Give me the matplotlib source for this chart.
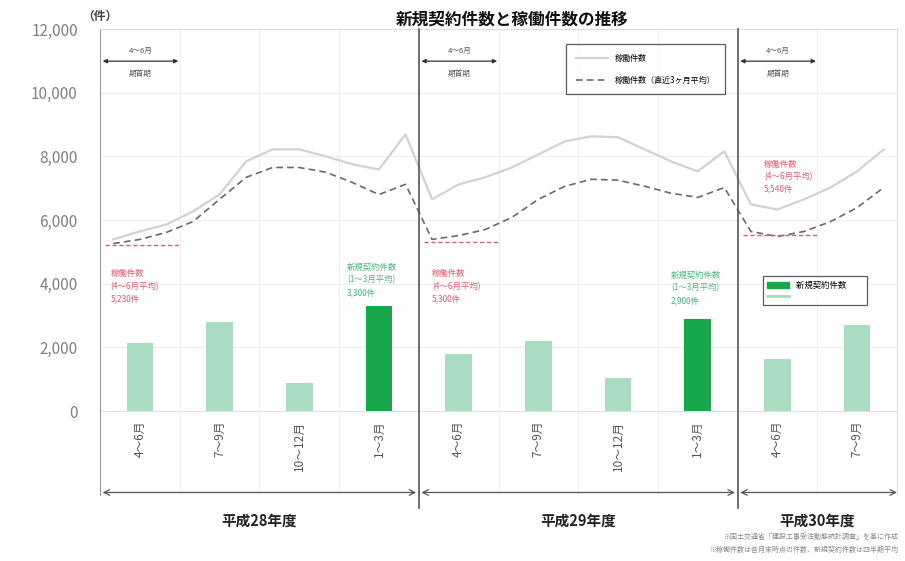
import matplotlib
matplotlib.use("Agg")
import matplotlib.pyplot as plt
from matplotlib.patches import Patch
from matplotlib.lines import Line2D

plt.rcParams['font.family'] = ['Noto Sans CJK JP', 'DejaVu Sans']

# ---- data ----
quarters = ["4～6月", "7～9月", "10～12月", "1～3月",
            "4～6月", "7～9月", "10～12月", "1～3月",
            "4～6月", "7～9月"]
new_contracts = [2150, 2800, 880, 3300, 1780, 2200, 1050, 2900, 1620, 2700]
q4_flags = [0, 0, 0, 1, 0, 0, 0, 1, 0, 0]

active = [5390, 5640, 5860, 6270, 6800, 7840, 8220, 8220, 8000, 7750, 7590, 8690,
          6650, 7120, 7340, 7650, 8060, 8470, 8630, 8600, 8220, 7840, 7530, 8160,
          6490, 6330, 6650, 7020, 7530, 8220]
active_avg = [5260, 5390, 5610, 5950, 6650, 7340, 7650, 7650, 7500, 7180, 6800, 7120,
              5390, 5510, 5700, 6080, 6650, 7060, 7280, 7250, 7060, 6840, 6710, 7020,
              5640, 5480, 5640, 5950, 6390, 7020]
q1_ref = [5230, 5300, 5540]
years = ["平成28年度", "平成29年度", "平成30年度"]
yticks = [0, 2000, 4000, 6000, 8000, 10000, 12000]

LIGHT = "#a9dcc0"
DARK = "#17a84c"
RED = "#e25a6e"
GREEN = "#45b97a"

fig = plt.figure(figsize=(9.05, 5.61), dpi=100)
ax = fig.add_axes([100 / 905, 1 - 495 / 561, 797 / 905, (495 - 29) / 561])
ymin = -(495 - 411) / 382 * 12000
ax.set_xlim(0, 30)
ax.set_ylim(ymin, 12000)

# grid
for yv in yticks[1:]:
    ax.axhline(yv, color="#eeeeee", lw=0.8, zorder=0)
ax.axhline(0, color="#f2d8dc", lw=0.8, zorder=0)
for xv in range(3, 30, 3):
    if xv % 12:
        ax.axvline(xv, color="#f0f0f0", lw=0.8, zorder=0)

# bars
qx = [1.5 + 3 * i for i in range(len(new_contracts))]
ax.bar(qx, new_contracts, width=1.0,
       color=[DARK if f else LIGHT for f in q4_flags], zorder=2)

# lines
mx = [i + 0.5 for i in range(len(active))]
l1, = ax.plot(mx, active, color="#d2d2d2", lw=1.6, zorder=3)
l2, = ax.plot(mx, active_avg, color="#6a6a6a", lw=1.2, ls=(0, (4, 2.5)), zorder=3)

# red reference lines
for i, v in enumerate(q1_ref):
    ax.plot([12 * i + 0.2, 12 * i + 3.0], [v, v], color=RED, lw=1.0,
            ls=(0, (3, 2)), zorder=3)

# dividers
for xv in (12, 24):
    ax.plot([xv, xv], [12000, ymin - 400], color="#555555", lw=1.2,
            clip_on=False, zorder=4)

# y axis
ax.set_yticks(yticks)
ax.set_yticklabels([f"{v:,}" for v in yticks], color="#808080", fontsize=11)
ax.tick_params(axis="y", length=0, pad=16)
ax.set_xticks([])
for s in ("top", "right"):
    ax.spines[s].set_color("#dddddd")
ax.spines["bottom"].set_visible(False)
ax.spines["left"].set_color("#999999")

# quarter labels
for x, lab in zip(qx, quarters):
    ax.text(x, -300, lab, rotation=90, ha="center", va="top", fontsize=8.5,
            color="#555555")

# year arrows and labels
for i, y in enumerate(years):
    x0 = 12 * i + 0.1
    x1 = min(12 * i + 11.9, 30)
    ax.annotate("", xy=(x0, -2560), xytext=(x1, -2560),
                arrowprops=dict(arrowstyle="<->", color="#555555", lw=0.9,
                                shrinkA=0, shrinkB=0), annotation_clip=False)
    cx = 12 * i + 6 if i < 2 else 27
    ax.text(cx, -3450, y, ha="center", va="center", fontsize=10.5,
            fontweight="bold", color="#222222", clip_on=False)

# top arrows
for i in range(3):
    x0 = 12 * i + 0.1
    x1 = 12 * i + 2.95
    ax.annotate("", xy=(x0, 10990), xytext=(x1, 10990),
                arrowprops=dict(arrowstyle="<|-|>", color="#333333", lw=0.9,
                                mutation_scale=6, shrinkA=0, shrinkB=0))
    ax.text((x0 + x1) / 2, 11300, "4～6月", ha="center", va="center",
            fontsize=5.5, color="#555555")
    ax.text((x0 + x1) / 2, 10600, "期首期", ha="center", va="center",
            fontsize=5.5, color="#555555")

# annotations
red_txt = ["稼働件数\n(4～6月平均)\n5,230件", "稼働件数\n(4～6月平均)\n5,300件",
           "稼働件数\n(4～6月平均)\n5,540件"]
red_pos = [(0.4, 4450), (12.5, 4450), (25.0, 7900)]
for t, (x, y) in zip(red_txt, red_pos):
    ax.text(x, y, t, ha="left", va="top", fontsize=6, color=RED, linespacing=1.5)
grn_txt = ["新規契約件数\n(1～3月平均)\n3,300件", "新規契約件数\n(1～3月平均)\n2,900件"]
grn_pos = [(9.3, 4650), (21.5, 4400)]
for t, (x, y) in zip(grn_txt, grn_pos):
    ax.text(x, y, t, ha="left", va="top", fontsize=6, color=GREEN, linespacing=1.5)

# legends
leg1 = ax.legend([l1, l2], ["稼働件数", "稼働件数（直近3ヶ月平均）"],
                 loc="upper left", bbox_to_anchor=(17.4 / 30, (11650 - ymin) / (12000 - ymin)),
                 fontsize=5.8, frameon=True, fancybox=False, edgecolor="#333333",
                 handlelength=4, borderpad=1.2, labelspacing=1.6)
leg1.get_frame().set_linewidth(0.9)
ax.add_artist(leg1)
leg2 = ax.legend([Patch(color=DARK), Line2D([0], [0], color=LIGHT, lw=2)],
                 ["新規契約件数　　", ""],
                 loc="upper left", bbox_to_anchor=(24.8 / 30, (4360 - ymin) / (12000 - ymin)),
                 fontsize=6, frameon=True, fancybox=False, edgecolor="#333333",
                 handlelength=2.6, borderpad=0.5, labelspacing=0.3)
leg2.get_frame().set_linewidth(0.9)

# titles
fig.text(512 / 905, 1 - 20 / 561, "新規契約件数と稼働件数の推移", ha="center",
         va="center", fontsize=12, color="#111111", fontweight="bold")
fig.text(100 / 905, 1 - 16 / 561, "（件）", ha="center", va="center",
         fontsize=8.5, color="#444444", fontweight="bold")

# footnote
fig.text(898 / 905, 1 - 537 / 561, "※国土交通省「建設工事受注動態統計調査」を基に作成",
         ha="right", va="center", fontsize=5, color="#888888")
fig.text(898 / 905, 1 - 550 / 561, "※稼働件数は各月末時点の件数、新規契約件数は四半期平均",
         ha="right", va="center", fontsize=5, color="#888888")

fig.savefig("out.png", dpi=100)
